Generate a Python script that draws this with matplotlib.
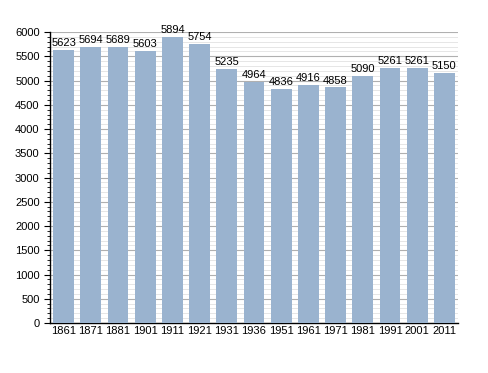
import matplotlib.pyplot as plt
import numpy as np
from matplotlib.ticker import MultipleLocator

plt.rcParams['font.family'] = ['Liberation Sans', 'DejaVu Sans']

years = ['1861', '1871', '1881', '1901', '1911', '1921', '1931', '1936',
         '1951', '1961', '1971', '1981', '1991', '2001', '2011']
population = [5623, 5694, 5689, 5603, 5894, 5754, 5235, 4964,
              4836, 4916, 4858, 5090, 5261, 5261, 5150]

fig = plt.figure(figsize=(4.88, 3.73), dpi=100)
ax = fig.add_axes([0.1025, 0.134, 0.836, 0.78])

x = np.arange(len(years))
ax.bar(x, population, width=0.77, color='#9ab3cf', zorder=3)

for xi, v in zip(x, population):
    ax.text(xi, v + 40, str(v), ha='center', va='bottom', fontsize=8,
            color='black', zorder=4)

ax.set_xlim(-0.5, len(years) - 0.5)
ax.set_ylim(0, 6000)
ax.set_xticks(x)
ax.set_xticklabels(years, fontsize=8)
ax.yaxis.set_major_locator(MultipleLocator(500))
ax.yaxis.set_minor_locator(MultipleLocator(100))
ax.tick_params(axis='y', labelsize=8, length=4)
ax.tick_params(axis='y', which='minor', length=2)
ax.tick_params(axis='x', length=0, pad=2)

ax.grid(axis='y', which='major', color='#b0b0b0', linewidth=0.8, zorder=0)
ax.grid(axis='y', which='minor', color='#e2e2e2', linewidth=0.6, zorder=0)

for s in ['top', 'right']:
    ax.spines[s].set_visible(False)
ax.spines['left'].set_linewidth(1.0)
ax.spines['bottom'].set_linewidth(1.0)

fig.savefig('out.png', dpi=100)
